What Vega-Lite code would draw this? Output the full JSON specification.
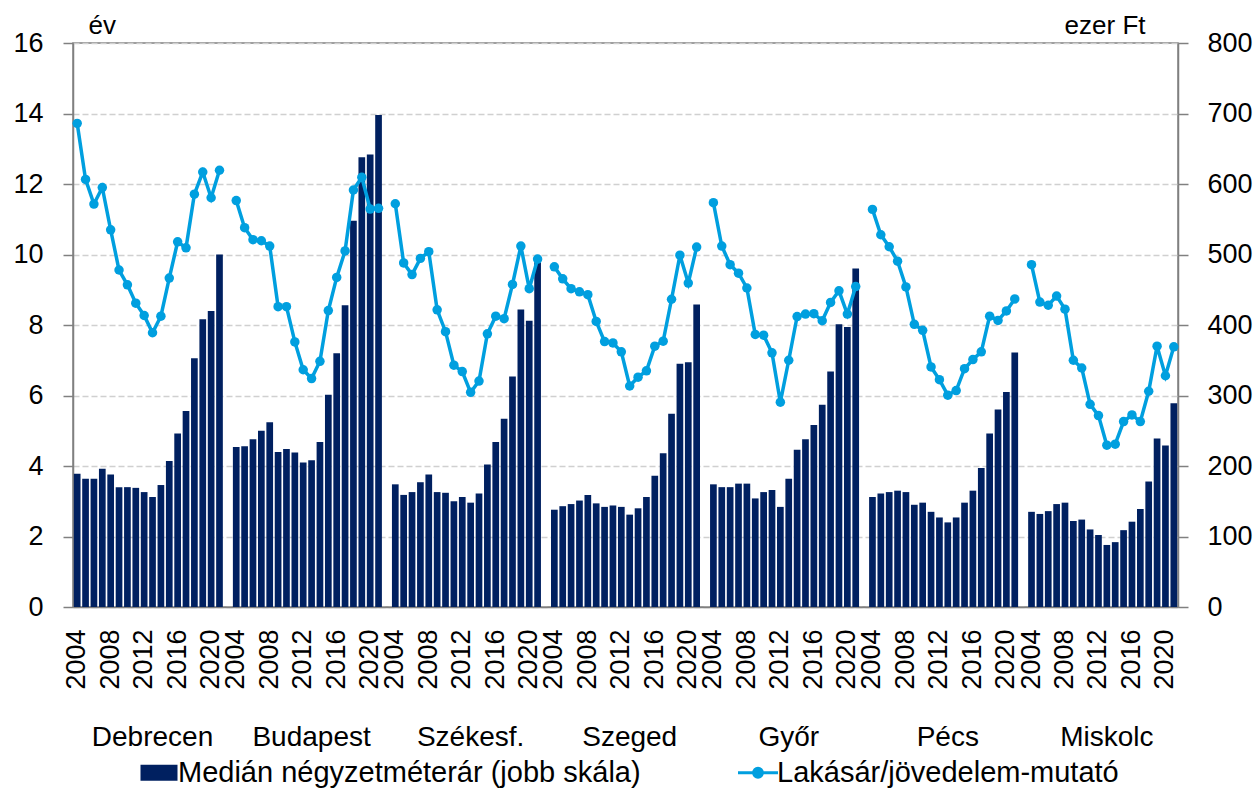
{
  "$schema": "https://vega.github.io/schema/vega-lite/v6.json",
  "width": 1105,
  "height": 564,
  "autosize": {"type": "none"},
  "padding": {"left": 73, "top": 43, "right": 81, "bottom": 184},
  "background": "white",
  "config": {
    "font": "Liberation Sans",
    "axis": {"labelColor": "#000000", "titleColor": "#000000", "titleFontWeight": "normal", "domainColor": "#808080", "tickColor": "#808080", "domainWidth": 1.5, "tickWidth": 1.5},
    "view": {"stroke": "#808080", "strokeWidth": 1.5}
  },
  "data": {"values": [
    {"city": "Debrecen", "key": "Debrecen 2004", "ratio": 13.72, "price": 189},
    {"city": "Debrecen", "key": "Debrecen 2005", "ratio": 12.13, "price": 182},
    {"city": "Debrecen", "key": "Debrecen 2006", "ratio": 11.43, "price": 182},
    {"city": "Debrecen", "key": "Debrecen 2007", "ratio": 11.90, "price": 196},
    {"city": "Debrecen", "key": "Debrecen 2008", "ratio": 10.70, "price": 188},
    {"city": "Debrecen", "key": "Debrecen 2009", "ratio": 9.56, "price": 170},
    {"city": "Debrecen", "key": "Debrecen 2010", "ratio": 9.14, "price": 170},
    {"city": "Debrecen", "key": "Debrecen 2011", "ratio": 8.62, "price": 169},
    {"city": "Debrecen", "key": "Debrecen 2012", "ratio": 8.27, "price": 163},
    {"city": "Debrecen", "key": "Debrecen 2013", "ratio": 7.78, "price": 156},
    {"city": "Debrecen", "key": "Debrecen 2014", "ratio": 8.25, "price": 173},
    {"city": "Debrecen", "key": "Debrecen 2015", "ratio": 9.33, "price": 207},
    {"city": "Debrecen", "key": "Debrecen 2016", "ratio": 10.36, "price": 246},
    {"city": "Debrecen", "key": "Debrecen 2017", "ratio": 10.19, "price": 278},
    {"city": "Debrecen", "key": "Debrecen 2018", "ratio": 11.71, "price": 353},
    {"city": "Debrecen", "key": "Debrecen 2019", "ratio": 12.34, "price": 408},
    {"city": "Debrecen", "key": "Debrecen 2020", "ratio": 11.61, "price": 420},
    {"city": "Debrecen", "key": "Debrecen 2021", "ratio": 12.39, "price": 500},
    {"city": "Budapest", "key": "Budapest 2004", "ratio": 11.53, "price": 227},
    {"city": "Budapest", "key": "Budapest 2005", "ratio": 10.76, "price": 228},
    {"city": "Budapest", "key": "Budapest 2006", "ratio": 10.42, "price": 238},
    {"city": "Budapest", "key": "Budapest 2007", "ratio": 10.39, "price": 250},
    {"city": "Budapest", "key": "Budapest 2008", "ratio": 10.24, "price": 262},
    {"city": "Budapest", "key": "Budapest 2009", "ratio": 8.52, "price": 220},
    {"city": "Budapest", "key": "Budapest 2010", "ratio": 8.52, "price": 224},
    {"city": "Budapest", "key": "Budapest 2011", "ratio": 7.52, "price": 219},
    {"city": "Budapest", "key": "Budapest 2012", "ratio": 6.73, "price": 205},
    {"city": "Budapest", "key": "Budapest 2013", "ratio": 6.48, "price": 208},
    {"city": "Budapest", "key": "Budapest 2014", "ratio": 6.97, "price": 234},
    {"city": "Budapest", "key": "Budapest 2015", "ratio": 8.41, "price": 301},
    {"city": "Budapest", "key": "Budapest 2016", "ratio": 9.35, "price": 360},
    {"city": "Budapest", "key": "Budapest 2017", "ratio": 10.10, "price": 428},
    {"city": "Budapest", "key": "Budapest 2018", "ratio": 11.83, "price": 548},
    {"city": "Budapest", "key": "Budapest 2019", "ratio": 12.19, "price": 638},
    {"city": "Budapest", "key": "Budapest 2020", "ratio": 11.29, "price": 642},
    {"city": "Budapest", "key": "Budapest 2021", "ratio": 11.31, "price": 698},
    {"city": "Székesf.", "key": "Székesf. 2004", "ratio": 11.44, "price": 174},
    {"city": "Székesf.", "key": "Székesf. 2005", "ratio": 9.76, "price": 159},
    {"city": "Székesf.", "key": "Székesf. 2006", "ratio": 9.43, "price": 163},
    {"city": "Székesf.", "key": "Székesf. 2007", "ratio": 9.89, "price": 177},
    {"city": "Székesf.", "key": "Székesf. 2008", "ratio": 10.08, "price": 188},
    {"city": "Székesf.", "key": "Székesf. 2009", "ratio": 8.43, "price": 163},
    {"city": "Székesf.", "key": "Székesf. 2010", "ratio": 7.81, "price": 162},
    {"city": "Székesf.", "key": "Székesf. 2011", "ratio": 6.86, "price": 150},
    {"city": "Székesf.", "key": "Székesf. 2012", "ratio": 6.68, "price": 156},
    {"city": "Székesf.", "key": "Székesf. 2013", "ratio": 6.09, "price": 148},
    {"city": "Székesf.", "key": "Székesf. 2014", "ratio": 6.41, "price": 161},
    {"city": "Székesf.", "key": "Székesf. 2015", "ratio": 7.75, "price": 202},
    {"city": "Székesf.", "key": "Székesf. 2016", "ratio": 8.25, "price": 234},
    {"city": "Székesf.", "key": "Székesf. 2017", "ratio": 8.18, "price": 267},
    {"city": "Székesf.", "key": "Székesf. 2018", "ratio": 9.15, "price": 327},
    {"city": "Székesf.", "key": "Székesf. 2019", "ratio": 10.24, "price": 422},
    {"city": "Székesf.", "key": "Székesf. 2020", "ratio": 9.03, "price": 406},
    {"city": "Székesf.", "key": "Székesf. 2021", "ratio": 9.87, "price": 489},
    {"city": "Szeged", "key": "Szeged 2004", "ratio": 9.65, "price": 138},
    {"city": "Szeged", "key": "Szeged 2005", "ratio": 9.31, "price": 143},
    {"city": "Szeged", "key": "Szeged 2006", "ratio": 9.03, "price": 146},
    {"city": "Szeged", "key": "Szeged 2007", "ratio": 8.94, "price": 151},
    {"city": "Szeged", "key": "Szeged 2008", "ratio": 8.86, "price": 159},
    {"city": "Szeged", "key": "Szeged 2009", "ratio": 8.10, "price": 147},
    {"city": "Szeged", "key": "Szeged 2010", "ratio": 7.53, "price": 142},
    {"city": "Szeged", "key": "Szeged 2011", "ratio": 7.49, "price": 144},
    {"city": "Szeged", "key": "Szeged 2012", "ratio": 7.24, "price": 142},
    {"city": "Szeged", "key": "Szeged 2013", "ratio": 6.27, "price": 131},
    {"city": "Szeged", "key": "Szeged 2014", "ratio": 6.52, "price": 140},
    {"city": "Szeged", "key": "Szeged 2015", "ratio": 6.70, "price": 156},
    {"city": "Szeged", "key": "Szeged 2016", "ratio": 7.40, "price": 186},
    {"city": "Szeged", "key": "Szeged 2017", "ratio": 7.54, "price": 218},
    {"city": "Szeged", "key": "Szeged 2018", "ratio": 8.73, "price": 274},
    {"city": "Szeged", "key": "Szeged 2019", "ratio": 9.98, "price": 345},
    {"city": "Szeged", "key": "Szeged 2020", "ratio": 9.19, "price": 347},
    {"city": "Szeged", "key": "Szeged 2021", "ratio": 10.21, "price": 429},
    {"city": "Győr", "key": "Győr 2004", "ratio": 11.47, "price": 174},
    {"city": "Győr", "key": "Győr 2005", "ratio": 10.24, "price": 170},
    {"city": "Győr", "key": "Győr 2006", "ratio": 9.71, "price": 170},
    {"city": "Győr", "key": "Győr 2007", "ratio": 9.47, "price": 175},
    {"city": "Győr", "key": "Győr 2008", "ratio": 9.05, "price": 175},
    {"city": "Győr", "key": "Győr 2009", "ratio": 7.73, "price": 154},
    {"city": "Győr", "key": "Győr 2010", "ratio": 7.71, "price": 163},
    {"city": "Győr", "key": "Győr 2011", "ratio": 7.21, "price": 166},
    {"city": "Győr", "key": "Győr 2012", "ratio": 5.81, "price": 142},
    {"city": "Győr", "key": "Győr 2013", "ratio": 7.00, "price": 182},
    {"city": "Győr", "key": "Győr 2014", "ratio": 8.24, "price": 223},
    {"city": "Győr", "key": "Győr 2015", "ratio": 8.31, "price": 238},
    {"city": "Győr", "key": "Győr 2016", "ratio": 8.32, "price": 258},
    {"city": "Győr", "key": "Győr 2017", "ratio": 8.12, "price": 287},
    {"city": "Győr", "key": "Győr 2018", "ratio": 8.64, "price": 334},
    {"city": "Győr", "key": "Győr 2019", "ratio": 8.97, "price": 401},
    {"city": "Győr", "key": "Győr 2020", "ratio": 8.31, "price": 397},
    {"city": "Győr", "key": "Győr 2021", "ratio": 9.09, "price": 480},
    {"city": "Pécs", "key": "Pécs 2004", "ratio": 11.28, "price": 156},
    {"city": "Pécs", "key": "Pécs 2005", "ratio": 10.56, "price": 161},
    {"city": "Pécs", "key": "Pécs 2006", "ratio": 10.22, "price": 163},
    {"city": "Pécs", "key": "Pécs 2007", "ratio": 9.81, "price": 165},
    {"city": "Pécs", "key": "Pécs 2008", "ratio": 9.08, "price": 163},
    {"city": "Pécs", "key": "Pécs 2009", "ratio": 8.02, "price": 145},
    {"city": "Pécs", "key": "Pécs 2010", "ratio": 7.85, "price": 148},
    {"city": "Pécs", "key": "Pécs 2011", "ratio": 6.81, "price": 135},
    {"city": "Pécs", "key": "Pécs 2012", "ratio": 6.45, "price": 127},
    {"city": "Pécs", "key": "Pécs 2013", "ratio": 6.01, "price": 120},
    {"city": "Pécs", "key": "Pécs 2014", "ratio": 6.14, "price": 127},
    {"city": "Pécs", "key": "Pécs 2015", "ratio": 6.76, "price": 148},
    {"city": "Pécs", "key": "Pécs 2016", "ratio": 7.02, "price": 165},
    {"city": "Pécs", "key": "Pécs 2017", "ratio": 7.24, "price": 197},
    {"city": "Pécs", "key": "Pécs 2018", "ratio": 8.25, "price": 246},
    {"city": "Pécs", "key": "Pécs 2019", "ratio": 8.13, "price": 280},
    {"city": "Pécs", "key": "Pécs 2020", "ratio": 8.40, "price": 305},
    {"city": "Pécs", "key": "Pécs 2021", "ratio": 8.74, "price": 361},
    {"city": "Miskolc", "key": "Miskolc 2004", "ratio": 9.71, "price": 135},
    {"city": "Miskolc", "key": "Miskolc 2005", "ratio": 8.65, "price": 132},
    {"city": "Miskolc", "key": "Miskolc 2006", "ratio": 8.56, "price": 136},
    {"city": "Miskolc", "key": "Miskolc 2007", "ratio": 8.82, "price": 146},
    {"city": "Miskolc", "key": "Miskolc 2008", "ratio": 8.45, "price": 148},
    {"city": "Miskolc", "key": "Miskolc 2009", "ratio": 7.00, "price": 122},
    {"city": "Miskolc", "key": "Miskolc 2010", "ratio": 6.78, "price": 124},
    {"city": "Miskolc", "key": "Miskolc 2011", "ratio": 5.75, "price": 110},
    {"city": "Miskolc", "key": "Miskolc 2012", "ratio": 5.43, "price": 102},
    {"city": "Miskolc", "key": "Miskolc 2013", "ratio": 4.59, "price": 88},
    {"city": "Miskolc", "key": "Miskolc 2014", "ratio": 4.62, "price": 92},
    {"city": "Miskolc", "key": "Miskolc 2015", "ratio": 5.26, "price": 109},
    {"city": "Miskolc", "key": "Miskolc 2016", "ratio": 5.45, "price": 121},
    {"city": "Miskolc", "key": "Miskolc 2017", "ratio": 5.26, "price": 139},
    {"city": "Miskolc", "key": "Miskolc 2018", "ratio": 6.12, "price": 178},
    {"city": "Miskolc", "key": "Miskolc 2019", "ratio": 7.40, "price": 239},
    {"city": "Miskolc", "key": "Miskolc 2020", "ratio": 6.56, "price": 229},
    {"city": "Miskolc", "key": "Miskolc 2021", "ratio": 7.38, "price": 289}
  ]},
  "layer": [
    {
      "mark": {"type": "bar"},
      "encoding": {
        "x": {
          "field": "key", "type": "nominal",
          "scale": {
            "paddingInner": 0.2, "paddingOuter": 0.1,
            "domain": [
              "Debrecen 2004","Debrecen 2005","Debrecen 2006","Debrecen 2007","Debrecen 2008","Debrecen 2009","Debrecen 2010","Debrecen 2011","Debrecen 2012","Debrecen 2013","Debrecen 2014","Debrecen 2015","Debrecen 2016","Debrecen 2017","Debrecen 2018","Debrecen 2019","Debrecen 2020","Debrecen 2021","gap1",
              "Budapest 2004","Budapest 2005","Budapest 2006","Budapest 2007","Budapest 2008","Budapest 2009","Budapest 2010","Budapest 2011","Budapest 2012","Budapest 2013","Budapest 2014","Budapest 2015","Budapest 2016","Budapest 2017","Budapest 2018","Budapest 2019","Budapest 2020","Budapest 2021","gap2",
              "Székesf. 2004","Székesf. 2005","Székesf. 2006","Székesf. 2007","Székesf. 2008","Székesf. 2009","Székesf. 2010","Székesf. 2011","Székesf. 2012","Székesf. 2013","Székesf. 2014","Székesf. 2015","Székesf. 2016","Székesf. 2017","Székesf. 2018","Székesf. 2019","Székesf. 2020","Székesf. 2021","gap3",
              "Szeged 2004","Szeged 2005","Szeged 2006","Szeged 2007","Szeged 2008","Szeged 2009","Szeged 2010","Szeged 2011","Szeged 2012","Szeged 2013","Szeged 2014","Szeged 2015","Szeged 2016","Szeged 2017","Szeged 2018","Szeged 2019","Szeged 2020","Szeged 2021","gap4",
              "Győr 2004","Győr 2005","Győr 2006","Győr 2007","Győr 2008","Győr 2009","Győr 2010","Győr 2011","Győr 2012","Győr 2013","Győr 2014","Győr 2015","Győr 2016","Győr 2017","Győr 2018","Győr 2019","Győr 2020","Győr 2021","gap5",
              "Pécs 2004","Pécs 2005","Pécs 2006","Pécs 2007","Pécs 2008","Pécs 2009","Pécs 2010","Pécs 2011","Pécs 2012","Pécs 2013","Pécs 2014","Pécs 2015","Pécs 2016","Pécs 2017","Pécs 2018","Pécs 2019","Pécs 2020","Pécs 2021","gap6",
              "Miskolc 2004","Miskolc 2005","Miskolc 2006","Miskolc 2007","Miskolc 2008","Miskolc 2009","Miskolc 2010","Miskolc 2011","Miskolc 2012","Miskolc 2013","Miskolc 2014","Miskolc 2015","Miskolc 2016","Miskolc 2017","Miskolc 2018","Miskolc 2019","Miskolc 2020","Miskolc 2021"
            ]
          },
          "axis": {
            "orient": "bottom", "title": null, "ticks": false, "tickSize": 0, "grid": false,
            "labelAngle": -90, "labelPadding": 22, "labelFontSize": 27, "labelOverlap": false,
            "labelExpr": "(+slice(datum.value,-4)) % 4 === 0 ? slice(datum.value,-4) : ''"
          }
        },
        "y": {
          "field": "price", "type": "quantitative",
          "scale": {"domain": [0, 800], "nice": false},
          "axis": {
            "orient": "right", "values": [0,100,200,300,400,500,600,700,800], "grid": false,
            "title": "ezer Ft", "titleAngle": 0, "titleAlign": "right", "titleBaseline": "alphabetic",
            "titleX": -33, "titleY": -10, "titleFontSize": 26,
            "tickSize": 10, "labelPadding": 19, "labelFontSize": 27
          }
        },
        "color": {
          "datum": "Medián négyzetméterár (jobb skála)",
          "scale": {"domain": ["Medián négyzetméterár (jobb skála)", "Lakásár/jövedelem-mutató"], "range": ["#002060", "#009FDF"]},
          "legend": {
            "title": null, "orient": "none", "direction": "horizontal",
            "legendX": 71.5, "legendY": 715, "padding": 0,
            "labelFontSize": 29, "labelColor": "#000000", "labelOffset": 4.5, "labelLimit": 800,
            "columnPadding": 90, "symbolSize": 1600,
            "encode": {"symbols": {"update": {
              "shape": {"signal": "datum.value === 'Lakásár/jövedelem-mutató' ? 'M-1,0H1M0.22,0A0.22,0.22,0,1,1,-0.22,0A0.22,0.22,0,1,1,0.22,0' : 'M-0.925,-0.4H0.925V0.4H-0.925Z'"},
              "strokeWidth": {"signal": "datum.value === 'Lakásár/jövedelem-mutató' ? 3 : 0"},
              "fill": {"signal": "datum.value === 'Lakásár/jövedelem-mutató' ? '#009FDF' : '#002060'"},
              "stroke": {"signal": "datum.value === 'Lakásár/jövedelem-mutató' ? '#009FDF' : '#002060'"},
              "opacity": {"value": 1},
              "fillOpacity": {"value": 1},
              "strokeOpacity": {"value": 1}
            }}}
          }
        }
      }
    },
    {
      "mark": {"type": "line", "strokeWidth": 3.5, "point": {"size": 90, "filled": true, "opacity": 1}},
      "encoding": {
        "x": {"field": "key", "type": "nominal", "axis": null},
        "y": {
          "field": "ratio", "type": "quantitative",
          "scale": {"domain": [0, 16], "nice": false},
          "axis": {
            "orient": "left", "values": [0,2,4,6,8,10,12,14,16],
            "title": "év", "titleAngle": 0, "titleAlign": "left", "titleBaseline": "alphabetic",
            "titleX": 15, "titleY": -10, "titleFontSize": 26,
            "tickSize": 10, "labelPadding": 20, "labelFontSize": 27,
            "grid": true, "gridDash": [6, 3], "gridColor": "#d0d0d0", "gridWidth": 1.5
          }
        },
        "detail": {"field": "city"},
        "color": {"datum": "Lakásár/jövedelem-mutató"}
      }
    },
    {
      "mark": {"type": "rule", "opacity": 0},
      "encoding": {
        "x": {
          "field": "key", "type": "nominal",
          "axis": {
            "orient": "bottom", "title": null, "ticks": false, "tickSize": 0, "domain": false, "grid": false,
            "labelAngle": 0, "labelAlign": "center", "labelBaseline": "alphabetic", "labelPadding": 138,
            "labelFontSize": 28, "labelOverlap": false,
            "labelExpr": "slice(datum.value,-4) === '2013' ? split(datum.value,' ')[0] : ''"
          }
        }
      }
    }
  ],
  "resolve": {"scale": {"y": "independent"}, "axis": {"x": "independent"}}
}
